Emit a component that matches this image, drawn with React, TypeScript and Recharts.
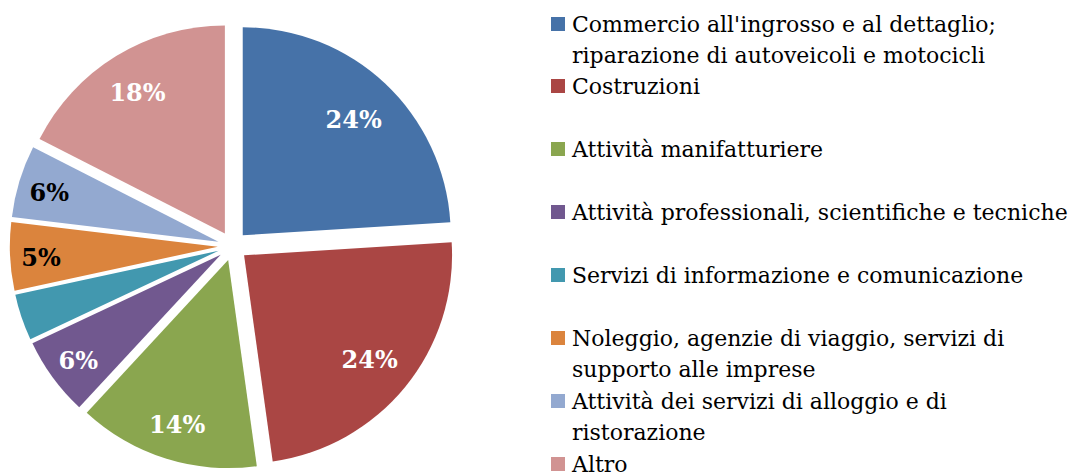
import React from 'react';
import { PieChart, Pie, Cell, Sector, Legend } from 'recharts';

const categories = [
  "Commercio all'ingrosso e al dettaglio; riparazione di autoveicoli e motocicli",
  'Costruzioni',
  'Attività manifatturiere',
  'Attività professionali, scientifiche e tecniche',
  'Servizi di informazione e comunicazione',
  'Noleggio, agenzie di viaggio, servizi di supporto alle imprese',
  'Attività dei servizi di alloggio e di ristorazione',
  'Altro',
];
const values = [24.0, 23.8, 14.1, 6.1, 3.6, 5.3, 5.6, 17.5];

const sliceColors = ['#4672A8', '#AA4644', '#8AA64F', '#71588F', '#4298AF', '#DB843D', '#93A9D0', '#D19392'];
const labelColors = ['#FFFFFF', '#FFFFFF', '#FFFFFF', '#FFFFFF', '#FFFFFF', '#000000', '#000000', '#FFFFFF'];

const data = categories.map((name, i) => ({ name, value: values[i] }));

const RAD = Math.PI / 180;
const EXPLODE = 14.8;
const SERIF = '"DejaVu Serif", serif';

function ExplodedSector(props: any) {
  const { cx, cy, innerRadius, outerRadius, startAngle, endAngle, fill } = props;
  const mid = (startAngle + endAngle) / 2;
  const dx = EXPLODE * Math.cos(-mid * RAD);
  const dy = EXPLODE * Math.sin(-mid * RAD);
  return (
    <Sector
      cx={cx + dx}
      cy={cy + dy}
      innerRadius={innerRadius}
      outerRadius={outerRadius}
      startAngle={startAngle}
      endAngle={endAngle}
      fill={fill}
      stroke="none"
    />
  );
}

function renderLabel(props: any) {
  const { cx, cy, startAngle, endAngle, percent, index } = props;
  if (percent < 0.04) return null;
  const mid = (startAngle + endAngle) / 2;
  // wider slices get their label placed a bit further inside
  const r = 196 - 80 * percent;
  const x = cx + r * Math.cos(-mid * RAD);
  const y = cy + r * Math.sin(-mid * RAD) + 2;
  return (
    <text
      key={`lbl-${index}`}
      x={x}
      y={y}
      textAnchor="middle"
      dominantBaseline="central"
      fill={labelColors[index]}
      fontFamily={SERIF}
      fontWeight="bold"
      fontSize={24}
    >
      {`${Math.round(percent * 100)}%`}
    </text>
  );
}

function LegendContent(props: any) {
  const payload = [...(props.payload || [])].sort(
    (a: any, b: any) => categories.indexOf(a.value) - categories.indexOf(b.value)
  );
  return (
    <div style={{ fontFamily: SERIF, fontSize: 22, lineHeight: '31.5px', color: '#000' }}>
      {payload.map((entry: any, i: number) => (
        <div key={i} style={{ position: 'relative', height: 62.85 }}>
          <div
            style={{
              position: 'absolute',
              left: 6,
              top: 8,
              width: 14,
              height: 14,
              background: entry.color,
            }}
          />
          <div style={{ marginLeft: 27, width: 505 }}>{entry.value}</div>
        </div>
      ))}
    </div>
  );
}

export default function App() {
  return (
    <div style={{ position: 'absolute', left: 0, top: 0, width: 1074, height: 472, background: '#fff' }}>
      <PieChart width={1074} height={472} margin={{ top: 0, right: 0, bottom: 0, left: 0 }}>
        <Pie
          data={data}
          dataKey="value"
          nameKey="name"
          cx={232.6}
          cy={246}
          outerRadius={208}
          startAngle={90}
          endAngle={-270}
          stroke="none"
          isAnimationActive={false}
          shape={ExplodedSector}
          activeShape={ExplodedSector}
          inactiveShape={ExplodedSector}
          label={renderLabel}
          labelLine={false}
        >
          {data.map((d, i) => (
            <Cell key={d.name} fill={sliceColors[i]} />
          ))}
        </Pie>
        <Legend
          layout="vertical"
          align="right"
          verticalAlign="top"
          itemSorter={null}
          content={LegendContent}
          wrapperStyle={{ left: 545, top: 8.6, width: 529, right: 'auto' }}
        />
      </PieChart>
    </div>
  );
}
